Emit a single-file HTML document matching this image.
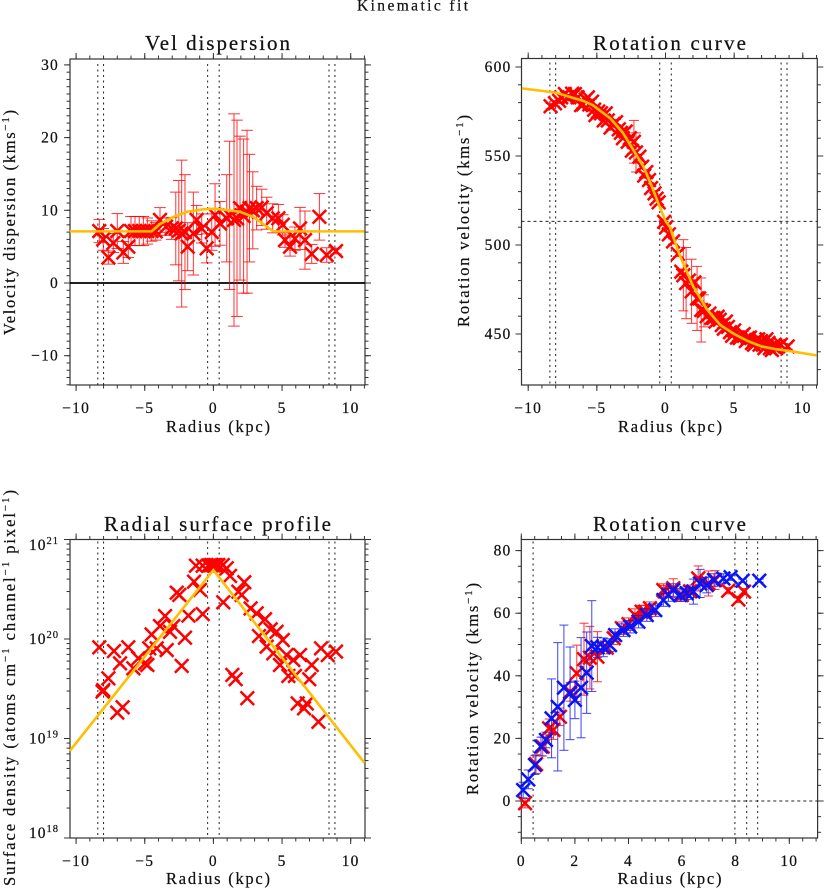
<!DOCTYPE html>
<html lang="en">
<head>
<meta charset="utf-8">
<title>Kinematic fit</title>
<style>
html,body{margin:0;padding:0;background:#fff;}
svg{display:block;filter:blur(0.3px);}
text{font-family:"Liberation Serif",serif;fill:#111;stroke:#111;stroke-width:0.22px;}
</style>
</head>
<body>
<svg id="figure" xmlns="http://www.w3.org/2000/svg" width="824" height="888" viewBox="0 0 824 888">
  <rect x="0" y="0" width="824" height="888" fill="#fff"></rect>
  <text x="412.5" y="10.5" text-anchor="middle" font-size="15.5" textLength="111">Kinematic fit</text>

  <g id="panel-dispersion"></g>
  <text x="217.5" y="50" text-anchor="middle" font-size="21" textLength="145">Vel dispersion</text>
  <text x="218" y="432" text-anchor="middle" font-size="16.5" textLength="104">Radius (kpc)</text>
  <text transform="translate(15,222.5) rotate(-90)" text-anchor="middle" font-size="16.5" textLength="225">Velocity dispersion (kms<tspan font-size="11" dy="-6">−1</tspan><tspan dy="6">)</tspan></text>

  <g id="panel-rotation"></g>
  <text x="669.5" y="50" text-anchor="middle" font-size="21" textLength="153">Rotation curve</text>
  <text x="670" y="432" text-anchor="middle" font-size="16.5" textLength="104">Radius (kpc)</text>
  <text transform="translate(469,221) rotate(-90)" text-anchor="middle" font-size="16.5" textLength="212">Rotation velocity (kms<tspan font-size="11" dy="-6">−1</tspan><tspan dy="6">)</tspan></text>

  <g id="panel-surface"></g>
  <text x="217.5" y="531" text-anchor="middle" font-size="21" textLength="227">Radial surface profile</text>
  <text x="218" y="884" text-anchor="middle" font-size="16.5" textLength="104">Radius (kpc)</text>
  <text transform="translate(15,688) rotate(-90)" text-anchor="middle" font-size="16.5" textLength="396">Surface density (atoms cm<tspan font-size="11" dy="-6">−1</tspan><tspan dy="6"> channel</tspan><tspan font-size="11" dy="-6">−1</tspan><tspan dy="6"> pixel</tspan><tspan font-size="11" dy="-6">−1</tspan><tspan dy="6">)</tspan></text>

  <g id="panel-folded"></g>
  <text x="669.5" y="531" text-anchor="middle" font-size="21" textLength="153">Rotation curve</text>
  <text x="669.5" y="884" text-anchor="middle" font-size="16.5" textLength="104">Radius (kpc)</text>
  <text transform="translate(478,689) rotate(-90)" text-anchor="middle" font-size="16.5" textLength="212">Rotation velocity (kms<tspan font-size="11" dy="-6">−1</tspan><tspan dy="6">)</tspan></text>
</svg>

<script>
// Velocity dispersion panel
const dispRadius = [-8.31,-8.02,-7.65,-7.29,-7.0,-6.56,-6.2,-6.0,-5.71,-5.4,-5.1,-4.81,-4.5,-4.2,-3.89,-3.45,-3.04,-2.74,-2.52,-2.31,-2.07,-1.87,-1.46,-1.22,-0.85,-0.49,-0.12,0.12,0.48,0.97,1.18,1.5,1.72,1.94,2.2,2.45,2.63,2.87,3.15,3.52,3.88,4.32,4.73,5.05,5.22,5.58,5.94,6.31,6.67,7.16,7.72,8.25,8.93];
const dispValues = [7.15,6.0,3.5,5.5,7.15,4.2,5.0,7.15,7.15,7.15,7.15,7.15,7.15,7.1,8.67,7.75,7.5,7.5,7.2,6.8,7.0,5.0,6.8,8.67,7.5,4.77,7.0,9.35,8.2,8.9,9.3,8.67,8.9,10.3,9.2,9.8,10.3,10.0,10.3,10.4,9.6,8.9,8.9,8.0,5.9,5.0,6.1,7.5,5.9,4.0,9.1,3.85,4.4];
const dispErrors = [1.6,1.5,0.9,1.3,2.4,1.5,1.5,2.0,2.0,2.0,2.0,1.8,1.4,1.2,1.7,1.2,1.5,5.0,6.9,10.1,7.9,3.3,5.7,2.0,2.0,2.0,2.5,4.3,3.0,6.0,10.2,14.6,13.5,9.9,10.6,11.2,7.4,5.3,3.0,2.5,2.2,2.0,1.9,1.4,1.0,1.3,1.6,2.9,4.0,1.3,3.2,1.0,0.4];
const dispModelRadius = [-10.46,-4.5,-3.9,-2.9,-1.9,-0.7,0.2,1.94,2.9,4.37,11];
const dispModelValues = [7.1,7.1,8.1,9.1,9.8,10.15,10.2,9.8,9.1,7.1,7.1];
const dispYTicks = [-10,0,10,20,30];

// Rotation curve panel
const rotRadius = [-8.37,-8.05,-7.75,-7.33,-7.0,-6.6,-6.15,-5.8,-5.55,-5.35,-5.1,-4.7,-4.35,-4.0,-3.6,-3.25,-2.9,-2.6,-2.45,-2.3,-2.15,-1.9,-1.55,-1.2,-0.8,-0.5,-0.1,0.05,0.25,0.55,0.9,1.15,1.3,1.5,1.7,1.9,2.1,2.3,2.45,2.6,2.8,3.0,3.2,3.5,3.8,4.1,4.4,4.7,5.0,5.2,5.4,5.7,6.0,6.3,6.6,6.85,7.1,7.35,7.6,7.85,8.05,8.4,8.9];
const rotValues = [578,579.6,581,584.8,583,584.8,578.6,581.8,579,580.5,573,574,574,566,569,563,563.7,560,553,558,552,549.6,539,536.5,529,524,513,510,506,502,495,485,483,478.6,480,474,479,470,470,463.5,463,460,461.5,459,459.7,455,457,451,452,448,447.7,450,447.7,445,446.6,444,444,447,442,443,442,444,443];
const rotErrors = [1.5,1.5,1.5,1.5,1.5,1.5,1.5,1.5,1.5,1.5,1.5,1.5,1.5,1.5,1.5,1.5,1.5,1.5,1.5,12,11,1.5,1.5,1.5,1.5,1.5,1.5,1.5,1.5,1.5,1.5,1.5,20,20,1.5,18,1.5,18,1.5,18,9,1.5,1.5,1.5,1.5,1.5,1.5,1.5,1.5,1.5,1.5,1.5,1.5,1.5,1.5,1.5,1.5,1.5,1.5,1.5,1.5,1.5,1.5];
const rotDenseRadius = [-7.6,-7.15,-6.8,-6.4,-6.0,-5.65,-5.2,-4.9,-4.5,-4.2,-3.8,-3.4,-3.1,-2.75,-1.7,-1.4,-1.05,-0.65,3.35,3.65,3.95,4.25,4.55,4.85,5.55,5.85,6.15,6.45,6.75,6.95,7.2,7.5,7.75,7.95,8.2];
const rotDenseValues = [583,583,585,583,579,583,576,575,570,570,568,565,560,558,544,541,532,526,459,457,458,453,454,449,449,446,448,444,447,446,442,445,441,444,443];
const rotModelRadius = [-10.46,-8,-6,-5.3,-4,-3.1,-2,-1.6,-1,-0.5,0,0.33,0.5,1,2,3,4,5,6,7,8,9,11];
const rotModelValues = [588,585.6,581,578.6,571,563,549,544,533,523,513.5,510,506,495,477,464,455,450,446,443,441.5,440.5,438];
const rotYTicks = [450,500,550,600];
const rotSystemicVelocity = 513.3;

// Radial surface profile panel
const surfRadius = [-8.31,-8.07,-8.02,-7.65,-7.0,-6.61,-7.24,-6.8,-6.2,-5.83,-5.47,-4.98,-4.81,-4.67,-4.13,-4.5,-3.89,-3.52,-3.4,-3.16,-2.92,-2.67,-2.48,-2.31,-2.07,-1.82,-1.41,-0.97,-0.78,-1.27,-0.78,-0.37,-0.12,0.12,0.36,0.68,0.97,1.21,0.72,1.38,1.62,1.82,2.25,2.06,2.47,2.71,3.15,3.76,3.32,3.88,4.17,4.6,5.05,4.36,4.85,5.33,5.82,6.31,5.46,5.94,6.14,6.8,6.6,6.98,7.16,7.65,7.84,8.33,8.93,-0.25,0,0.25];
const surfValues = [8.25e19,2.96e19,3.07e19,4.03e19,1.82e19,2.06e19,7.57e19,5.69e19,8.25e19,5.07e19,6.39e19,5.69e19,5.48e19,8.06e19,8.06e19,1.11e20,1.35e20,1.7e20,7.75e19,1.18e20,1.35e20,2.92e20,2.77e20,5.36e19,1.03e20,1.72e20,3.77e20,3.11e20,1.78e20,5.46e20,5.46e20,5.46e20,5.54e20,5.54e20,5.54e20,5.54e20,5.13e20,4.3e20,2.34e20,4.35e19,3.94e19,2.99e20,3.72e20,2.77e20,2.54e19,2.03e20,1.81e20,1.58e20,1.07e20,8.38e19,1.25e20,1.18e20,9.77e19,7.18e19,5.48e19,6.9e19,6.15e19,6.9e19,4.25e19,4.25e19,2.25e19,2.25e19,2.01e19,3.94e19,5.48e19,1.47e19,8.06e19,6.9e19,7.47e19,5.5e20,5.5e20,5.5e20];
const surfModelRadius = [-10.46,0,11];
const surfModelValues = [7.5e18,4.93e20,5.7e18];
const surfExponents = [18,19,20,21];

// Folded rotation curve panel
const foldRedRadius = [0.14,0.55,0.8,1.04,1.2,1.44,1.82,2.07,2.34,2.56,2.84,3.19,3.45,3.75,4.0,4.24,4.49,4.62,4.8,5.3,5.36,5.67,5.99,6.3,6.6,6.98,7.23,7.72,8.1,8.31];
const foldRedValues = [-0.7,11.8,17.4,23.2,22.7,26.9,34.9,40.8,45.3,45.8,46.1,49,52,55.2,56.5,59.4,60.5,60.5,61.6,67.4,66.9,68,65.8,67,71.1,69.5,70.6,67.2,64.4,66.9];
const foldRedErrors = [1.5,3,3,3,3,2.8,3,9,11.5,10,8,2,2,2,2,2,2,2,2,2,2,3,2,2,4,4,3,1,1,1];
const foldBlueRadius = [0.07,0.26,0.51,0.735,0.92,1.13,1.36,1.59,1.82,2.0,2.23,2.44,2.63,2.84,3.06,3.31,3.5,3.81,4.06,4.37,4.68,5,5.3,5.49,5.67,5.92,6.17,6.42,6.67,6.92,7.19,7.54,7.81,8.26,8.88];
const foldBlueValues = [3.5,6.9,11.5,17.4,19.5,26.4,30.1,36.2,34.4,32.3,36.2,41,49.5,49.1,49.1,49.8,53,54.6,55.7,57.3,59.4,61,64.2,65.8,67.4,65.8,66.4,66.9,69.5,69,70.6,71.1,71.5,70.4,70.4];
const foldBlueErrors = [2.5,3,3,3,2.5,12.6,20.5,20,14.8,6,16,13,14.5,3.2,3,2,2,2,2,2,2,2,2,2,2,2,2,4,4.5,2.5,2,1.5,1,0.5,0.5];
const foldXTicks = [0,2,4,6,8,10];
const foldYTicks = [0,20,40,60,80];

// Shared
const radiusTicks = [-10,-5,0,5,10];
const slitMarksSigned = [-8.42,-8.0,-0.42,0.42,8.42,8.85];
const slitMarksFolded = [0.44,7.97,8.41,8.82];

const SVGNS = 'http://www.w3.org/2000/svg';
const RED = '#ff0000';
const BLUE = '#0a14f5';
const ORANGE = '#ffbe00';

function make(parent, tag, attrs) {
  const node = document.createElementNS(SVGNS, tag);
  Object.keys(attrs).forEach(function (k) { node.setAttribute(k, attrs[k]); });
  parent.appendChild(node);
  return node;
}

function linearScale(origin, pxPerUnit) {
  return function (v) { return origin + v * pxPerUnit; };
}

function drawLineSeg(parent, x1, y1, x2, y2, stroke, width) {
  return make(parent, 'line', { x1: x1, y1: y1, x2: x2, y2: y2, stroke: stroke, 'stroke-width': width });
}

function drawTick(parent, x1, y1, x2, y2) {
  const t = drawLineSeg(parent, x1, y1, x2, y2, '#333', 1);
  
  
}

function fmt(v) {
  return v < 0 ? '\u2212' + Math.abs(v) : String(v);
}

function drawFrame(parent, box) {
  const r = make(parent, 'rect', { x: box.l, y: box.t, width: box.r - box.l, height: box.b - box.t, fill: 'none', stroke: '#333', 'stroke-width': 1.2 });
  
  
}

function drawXAxis(parent, box, sx, majors, minorStep, labelY) {
  const first = Math.ceil(sxInverse(sx, box.l) / minorStep) * minorStep;
  for (let v = first; sx(v) <= box.r; v += minorStep) {
    drawTick(parent, sx(v), box.b, sx(v), box.b + 3.5);
    drawTick(parent, sx(v), box.t, sx(v), box.t - 3.5);
  }
  majors.forEach(function (v) {
    drawTick(parent, sx(v), box.b, sx(v), box.b + 6);
    drawTick(parent, sx(v), box.t, sx(v), box.t - 6);
    const label = make(parent, 'text', { x: sx(v), y: labelY, 'text-anchor': 'middle', 'font-size': 15.5, 'letter-spacing': 1.2 });
    
    
    label.textContent = fmt(v);
  });
}

function sxInverse(s, px) {
  const a = s(0);
  const k = s(1) - a;
  return (px - a) / k;
}

function drawYAxis(parent, box, sy, majors, minorStep, labelX) {
  const low = sxInverse(sy, box.b);
  const first = Math.ceil(low / minorStep) * minorStep;
  for (let v = first; sy(v) >= box.t; v += minorStep) {
    drawTick(parent, box.l, sy(v), box.l - 3.5, sy(v));
    drawTick(parent, box.r, sy(v), box.r + 3.5, sy(v));
  }
  majors.forEach(function (v) {
    drawTick(parent, box.l, sy(v), box.l - 6, sy(v));
    drawTick(parent, box.r, sy(v), box.r + 6, sy(v));
    const label = make(parent, 'text', { x: labelX, y: sy(v) + 5, 'text-anchor': 'end', 'font-size': 15.5, 'letter-spacing': 1.2 });
    
    
    label.textContent = fmt(v);
  });
}

function drawLogYAxis(parent, box, sy, exponents, labelX) {
  exponents.forEach(function (e, i) {
    const y = sy(Math.pow(10, e));
    drawTick(parent, box.l, y, box.l - 6, y);
    drawTick(parent, box.r, y, box.r + 6, y);
    const base = Math.min(box.b, Math.max(box.t + 10.5, y + 5));
    const label = make(parent, 'text', { x: labelX, y: base, 'text-anchor': 'end', 'font-size': 15.5, 'letter-spacing': 1 });
    
    
    label.textContent = '10';
    const sup = make(label, 'tspan', { 'font-size': 10.5, dy: -6 });
    sup.textContent = String(e);
    if (i < exponents.length - 1) {
      for (let m = 2; m <= 9; m++) {
        const my = sy(m * Math.pow(10, e));
        drawTick(parent, box.l, my, box.l - 3.5, my);
        drawTick(parent, box.r, my, box.r + 3.5, my);
      }
    }
  });
}

function drawVerticalMarks(parent, marks, sx, top, bottom) {
  marks.forEach(function (v) {
    const d = drawLineSeg(parent, sx(v), top, sx(v), bottom, '#222', 1);
    d.setAttribute('stroke-dasharray', '2 3.5');
    
    
  });
}

function drawErrorBars(parent, xs, ys, errs, sx, sy, color, cap) {
  xs.forEach(function (x, i) {
    const px = sx(x);
    const hi = sy(ys[i] + errs[i]);
    const lo = sy(ys[i] - errs[i]);
    const g = make(parent, 'g', { stroke: color, 'stroke-width': 1, opacity: 0.8 });
    
    
    make(g, 'line', { x1: px, y1: hi, x2: px, y2: lo });
    make(g, 'line', { x1: px - cap, y1: hi, x2: px + cap, y2: hi });
    make(g, 'line', { x1: px - cap, y1: lo, x2: px + cap, y2: lo });
  });
}

function drawCrosses(parent, xs, ys, sx, sy, color, size) {
  xs.forEach(function (x, i) {
    const px = sx(x);
    const py = sy(ys[i]);
    const c = make(parent, 'path', {
      d: 'M' + (px - size) + ' ' + (py - size) + 'L' + (px + size) + ' ' + (py + size) +
         'M' + (px - size) + ' ' + (py + size) + 'L' + (px + size) + ' ' + (py - size),
      stroke: color, 'stroke-width': 2.5, fill: 'none'
    });
    
    
  });
}

function drawModel(parent, xs, ys, sx, sy) {
  const pts = xs.map(function (x, i) { return sx(x) + ',' + sy(ys[i]); }).join(' ');
  const m = make(parent, 'polyline', { points: pts, fill: 'none', stroke: ORANGE, 'stroke-width': 2.6 });
  
  
}

/* ---------- Panel 1: velocity dispersion ---------- */
(function () {
  const g = document.getElementById('panel-dispersion');
  const box = { l: 70, r: 365, t: 59, b: 385 };
  const sx = linearScale(213.4, 13.73);
  const sy = linearScale(283, -7.27);
  drawFrame(g, box);
  drawXAxis(g, box, sx, radiusTicks, 1, 413);
  drawYAxis(g, box, sy, dispYTicks, 1, 59);
  drawVerticalMarks(g, slitMarksSigned, sx, box.t + 5, box.b);
  const zero = drawLineSeg(g, box.l, sy(0), box.r, sy(0), '#000', 1.8);
  
  
  drawErrorBars(g, dispRadius, dispValues, dispErrors, sx, sy, RED, 5.8);
  drawCrosses(g, dispRadius, dispValues, sx, sy, RED, 6.8);
  drawModel(g, dispModelRadius, dispModelValues, sx, sy);
})();

/* ---------- Panel 2: rotation curve ---------- */
(function () {
  const g = document.getElementById('panel-rotation');
  const box = { l: 521.5, r: 817.3, t: 58.5, b: 385 };
  const sx = linearScale(665.5, 13.73);
  const sy = function (v) { return 245 - (v - 500) * 1.78; };
  drawFrame(g, box);
  drawXAxis(g, box, sx, radiusTicks, 1, 413);
  drawYAxis(g, box, sy, rotYTicks, 10, 511.5);
  drawVerticalMarks(g, slitMarksSigned, sx, box.t + 4, box.b);
  const h = drawLineSeg(g, box.l, sy(rotSystemicVelocity), box.r, sy(rotSystemicVelocity), '#222', 1);
  h.setAttribute('stroke-dasharray', '3 3');
  
  
  drawErrorBars(g, rotRadius, rotValues, rotErrors, sx, sy, RED, 5);
  drawCrosses(g, rotRadius, rotValues, sx, sy, RED, 6.8);
  drawCrosses(g, rotDenseRadius, rotDenseValues, sx, sy, RED, 6.8);
  drawModel(g, rotModelRadius, rotModelValues, sx, sy);
})();

/* ---------- Panel 3: radial surface profile ---------- */
(function () {
  const g = document.getElementById('panel-surface');
  const box = { l: 70, r: 365, t: 539.5, b: 838 };
  const sx = linearScale(213.4, 13.73);
  const sy = function (v) { return 639 - (Math.log10(v) - 20) * 99.5; };
  drawFrame(g, box);
  drawXAxis(g, box, sx, radiusTicks, 1, 866);
  drawLogYAxis(g, box, sy, surfExponents, 59);
  drawVerticalMarks(g, slitMarksSigned, sx, box.t + 2, box.b);
  drawCrosses(g, surfRadius, surfValues, sx, sy, RED, 6.8);
  drawModel(g, surfModelRadius, surfModelValues, sx, sy);
})();

/* ---------- Panel 4: folded rotation curve ---------- */
(function () {
  const g = document.getElementById('panel-folded');
  const box = { l: 521.3, r: 817.6, t: 539.5, b: 838 };
  const sx = linearScale(521.3, 26.8);
  const sy = linearScale(801, -3.13);
  drawFrame(g, box);
  drawXAxis(g, box, sx, foldXTicks, 0.5, 866);
  drawYAxis(g, box, sy, foldYTicks, 5, 511.5);
  drawVerticalMarks(g, slitMarksFolded, sx, box.t + 2, box.b);
  const h = drawLineSeg(g, box.l, sy(0), box.r, sy(0), '#222', 1);
  h.setAttribute('stroke-dasharray', '3 3');
  
  
  drawErrorBars(g, foldRedRadius, foldRedValues, foldRedErrors, sx, sy, RED, 4.5);
  drawCrosses(g, foldRedRadius, foldRedValues, sx, sy, RED, 6.8);
  drawErrorBars(g, foldBlueRadius, foldBlueValues, foldBlueErrors, sx, sy, BLUE, 4.5);
  drawCrosses(g, foldBlueRadius, foldBlueValues, sx, sy, BLUE, 6.8);
})();
</script>
</body>
</html>
